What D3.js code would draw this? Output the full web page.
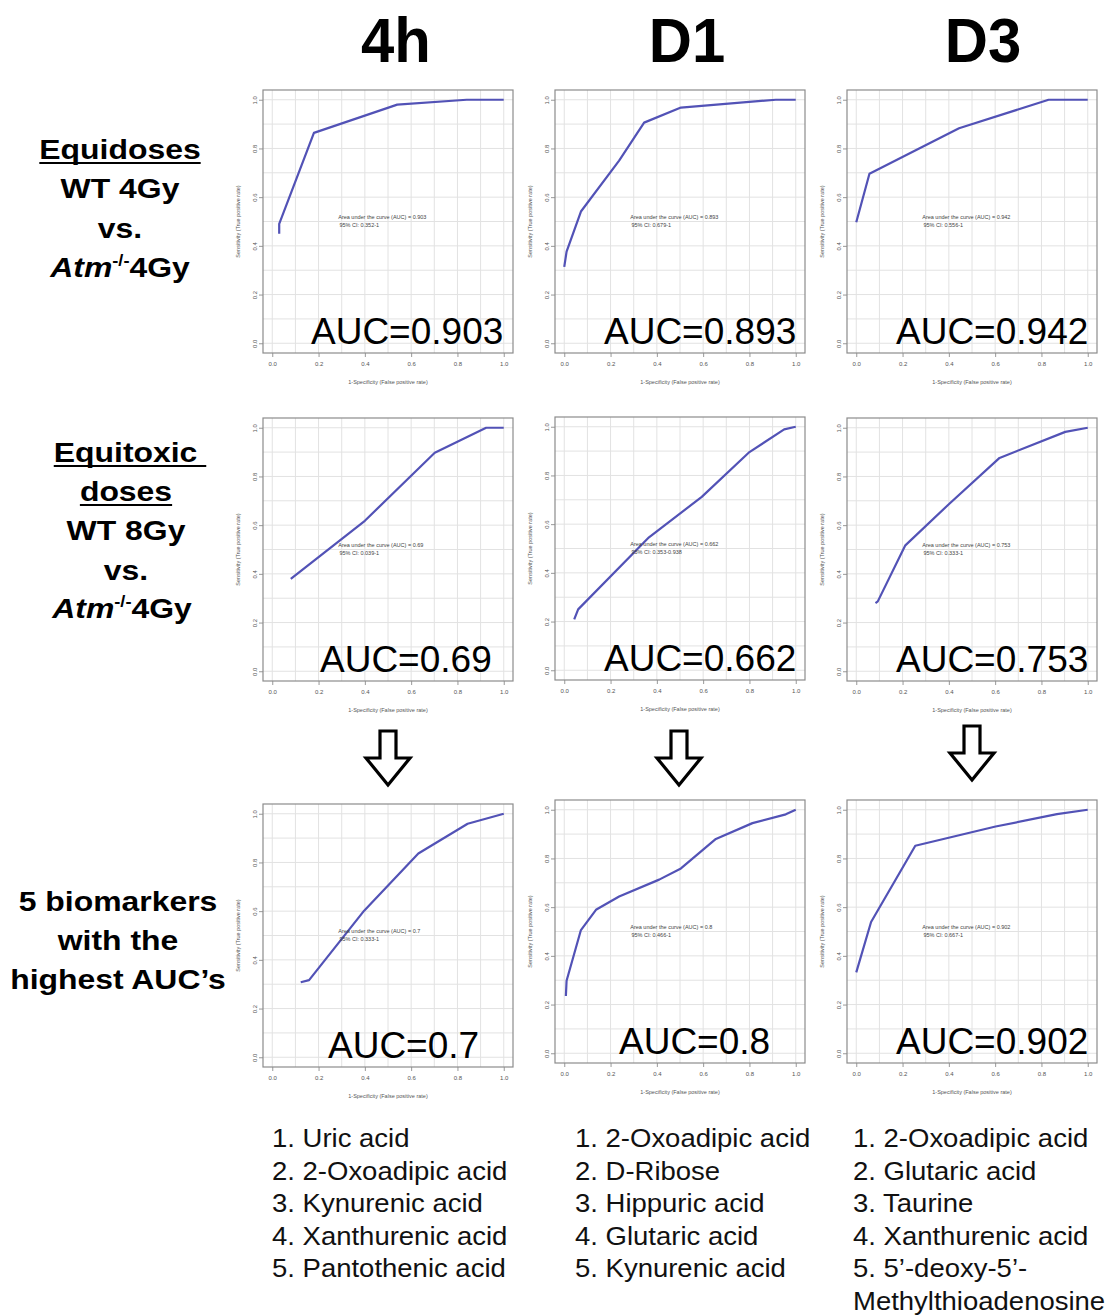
<!DOCTYPE html>
<html>
<head>
<meta charset="utf-8">
<script src="https://cdn.jsdelivr.net/npm/d3@7"></script>
<style>
  body { margin: 0; background: #fff; }
  svg { display: block; font-family: "Liberation Sans", Arial, sans-serif; }
</style>
</head>
<body>
<svg id="chart" width="1112" height="1315"></svg>
<script>
// column headers (time points)
var timePoints = ["4h", "D1", "D3"];

// ROC curves, [1-specificity, sensitivity]
var rocEqui4h = [[0.03, 0.45], [0.03, 0.49], [0.18, 0.864], [0.54, 0.98], [0.84, 1.0], [1.0, 1.0]];
var rocEquiD1 = [[0.0, 0.314], [0.01, 0.376], [0.072, 0.541], [0.237, 0.75], [0.345, 0.906], [0.504, 0.968], [0.914, 1.0], [1.0, 1.0]];
var rocEquiD3 = [[0.0, 0.497], [0.057, 0.696], [0.444, 0.883], [0.831, 1.0], [1.0, 1.0]];
var rocTox4h = [[0.08, 0.379], [0.4, 0.618], [0.702, 0.897], [0.924, 1.0], [1.0, 1.0]];
var rocToxD1 = [[0.043, 0.209], [0.06, 0.25], [0.366, 0.546], [0.594, 0.712], [0.8, 0.896], [0.95, 0.989], [1.0, 1.0]];
var rocToxD3 = [[0.083, 0.28], [0.093, 0.287], [0.212, 0.517], [0.401, 0.687], [0.619, 0.876], [0.903, 0.983], [1.0, 1.0]];
var rocBio4h = [[0.123, 0.308], [0.159, 0.317], [0.397, 0.602], [0.631, 0.837], [0.844, 0.959], [1.0, 1.0]];
var rocBioD1 = [[0.007, 0.235], [0.01, 0.298], [0.072, 0.506], [0.137, 0.589], [0.237, 0.644], [0.41, 0.713], [0.504, 0.759], [0.655, 0.88], [0.813, 0.945], [0.957, 0.981], [1.0, 1.0]];
var rocBioD3 = [[0.0, 0.332], [0.064, 0.539], [0.255, 0.852], [0.602, 0.931], [0.867, 0.982], [1.0, 1.0]];

var aucValues = ["0.903", "0.893", "0.942", "0.69", "0.662", "0.753", "0.7", "0.8", "0.902"];
var ciValues = ["0.352-1", "0.679-1", "0.556-1", "0.039-1", "0.353-0.938", "0.333-1", "0.333-1", "0.466-1", "0.667-1"];

var axisTicks = [0, 0.2, 0.4, 0.6, 0.8, 1.0];

var biomarkers4h = ["1. Uric acid", "2. 2-Oxoadipic acid", "3. Kynurenic acid", "4. Xanthurenic acid", "5. Pantothenic acid"];
var biomarkersD1 = ["1. 2-Oxoadipic acid", "2. D-Ribose", "3. Hippuric acid", "4. Glutaric acid", "5. Kynurenic acid"];
var biomarkersD3 = ["1. 2-Oxoadipic acid", "2. Glutaric acid", "3. Taurine", "4. Xanthurenic acid", "5. 5\u2019-deoxy-5\u2019-", "Methylthioadenosine"];

var curves = [rocEqui4h, rocEquiD1, rocEquiD3, rocTox4h, rocToxD1, rocToxD3, rocBio4h, rocBioD1, rocBioD3];
var biomarkerLists = [biomarkers4h, biomarkersD1, biomarkersD3];

// layout
var W = 250, H = 263;
var colLeft = [263, 555, 847];
var panelTop = [90, 90, 90, 418, 417, 418, 804, 800, 800];
var aucDx = [48, 49, 49, 57, 49, 49, 65, 64, 49];
var headerX = [396, 687, 983];
var arrowX = [388, 679, 972];

var svg = d3.select("#chart");

// column headers
svg.selectAll(".header")
    .data(timePoints)
    .enter()
    .append("text")
    .attr("class", "header")
    .attr("transform", function (d, i) { return "translate(" + headerX[i] + ",62) scale(0.95,1)"; })
    .attr("text-anchor", "middle")
    .style("font-size", "63px")
    .style("font-weight", "bold")
    .text(function (d) { return d; });

// one ROC panel
function drawPanel(d, i) {
    var g = svg.append("g")
        .attr("class", "panel")
        .attr("transform", "translate(" + colLeft[i % 3] + "," + panelTop[i] + ")");

    var x = d3.scaleLinear().domain([-0.04, 1.04]).range([0, W]);
    var y = d3.scaleLinear().domain([-0.04, 1.04]).range([H, 0]);
    var grid = d3.range(0, 11).map(function (k) { return k / 10; });

    g.append("rect")
        .attr("width", W).attr("height", H)
        .style("fill", "#fff");

    g.selectAll(".gx").data(grid).enter().append("line")
        .attr("x1", function (v) { return x(v); }).attr("x2", function (v) { return x(v); })
        .attr("y1", 0).attr("y2", H)
        .style("stroke", "#e2e2e2").style("stroke-width", 1);
    g.selectAll(".gy").data(grid).enter().append("line")
        .attr("y1", function (v) { return y(v); }).attr("y2", function (v) { return y(v); })
        .attr("x1", 0).attr("x2", W)
        .style("stroke", "#e2e2e2").style("stroke-width", 1);

    var xAxis = g.append("g")
        .attr("transform", "translate(0," + H + ")")
        .call(d3.axisBottom(x).tickValues(axisTicks).tickFormat(d3.format(".1f")).tickSize(4).tickSizeOuter(0));
    var yAxis = g.append("g")
        .call(d3.axisLeft(y).tickValues(axisTicks).tickFormat(d3.format(".1f")).tickSize(4).tickSizeOuter(0));

    xAxis.select(".domain").remove();
    yAxis.select(".domain").remove();
    g.selectAll(".tick line").style("stroke", "#999");
    xAxis.selectAll("text").attr("y", 11).attr("dy", "0.32em").style("font-size", "6px").style("fill", "#555");
    yAxis.selectAll("text")
        .attr("x", 0).attr("dy", 0).attr("y", -6)
        .attr("transform", "rotate(-90)")
        .attr("text-anchor", "middle")
        .style("font-size", "6px").style("fill", "#555");

    g.append("text")
        .attr("x", W / 2).attr("y", H + 31)
        .attr("text-anchor", "middle")
        .style("font-size", "5.5px").style("fill", "#555")
        .text("1-Specificity (False positive rate)");
    g.append("text")
        .attr("transform", "translate(-23," + (H / 2) + ") rotate(-90)")
        .attr("text-anchor", "middle")
        .style("font-size", "5.5px").style("fill", "#555")
        .text("Sensitivity (True positive rate)");

    g.append("rect")
        .attr("width", W).attr("height", H)
        .style("fill", "none").style("stroke", "#8c8c8c").style("stroke-width", 1.2);

    var line = d3.line()
        .x(function (p) { return x(p[0]); })
        .y(function (p) { return y(p[1]); });

    g.append("path")
        .datum(d)
        .attr("d", line)
        .style("fill", "none")
        .style("stroke", "#5252b6")
        .style("stroke-width", 2.2)
        .style("stroke-linejoin", "round");

    var note = g.append("text")
        .attr("x", x(0.285)).attr("y", y(0.51))
        .style("font-size", "5.5px").style("fill", "#444");
    note.append("tspan").text("Area under the curve (AUC) = " + aucValues[i]);
    note.append("tspan").attr("x", x(0.29)).attr("dy", 8).text("95% CI: " + ciValues[i]);

    g.append("text")
        .attr("x", aucDx[i]).attr("y", H - 9)
        .style("font-size", "37px")
        .style("fill", "#000")
        .text("AUC=" + aucValues[i]);
}

curves.forEach(drawPanel);

// hollow down arrows between rows 2 and 3
svg.selectAll(".arrow")
    .data(arrowX)
    .enter()
    .append("path")
    .attr("class", "arrow")
    .attr("d", function (cx, i) {
        var top = i == 2 ? 726 : 731, neck = top + 27, tip = top + 54;
        return "M" + (cx - 8) + "," + top + "H" + (cx + 8) + "V" + neck + "H" + (cx + 22) +
            "L" + cx + "," + tip + "L" + (cx - 22) + "," + neck + "H" + (cx - 8) + "Z";
    })
    .style("fill", "#fff")
    .style("stroke", "#000")
    .style("stroke-width", 3.2)
    .style("stroke-linejoin", "miter");

// row labels on the left
function rowLine(parts, cx, yBase, underline) {
    var t = svg.append("text")
        .attr("transform", "translate(" + cx + "," + yBase + ") scale(1.14,1)")
        .attr("text-anchor", "middle")
        .style("font-size", "28px")
        .style("font-weight", "bold")
        .attr("xml:space", "preserve");
    parts.forEach(function (p) {
        var s = t.append("tspan").text(p.text);
        if (p.italic) s.style("font-style", "italic");
        if (p.sup) s.style("font-size", "16px").attr("dy", -11);
        if (p.after) s.attr("dy", 11);
    });
    if (underline) {
        var w = t.node().getComputedTextLength() * 1.14;
        svg.append("line")
            .attr("x1", cx - w / 2).attr("x2", cx + w / 2)
            .attr("y1", yBase + 4).attr("y2", yBase + 4)
            .style("stroke", "#000").style("stroke-width", 2.2);
    }
}

var atmLine = [{ text: "Atm", italic: true }, { text: "-/-", sup: true }, { text: "4Gy", after: true }];

rowLine([{ text: "Equidoses" }], 120, 159, true);
rowLine([{ text: "WT 4Gy" }], 120, 198, false);
rowLine([{ text: "vs." }], 120, 238, false);
rowLine(atmLine, 120, 277, false);

rowLine([{ text: "Equitoxic " }], 130, 462, true);
rowLine([{ text: "doses" }], 126, 501, true);
rowLine([{ text: "WT 8Gy" }], 126, 540, false);
rowLine([{ text: "vs." }], 126, 580, false);
rowLine(atmLine, 122, 618, false);

rowLine([{ text: "5 biomarkers" }], 118, 911, false);
rowLine([{ text: "with the" }], 118, 950, false);
rowLine([{ text: "highest AUC\u2019s" }], 118, 989, false);

// biomarker lists under each column
var listX = [272, 575, 853];
biomarkerLists.forEach(function (list, c) {
    svg.selectAll(".list" + c)
        .data(list)
        .enter()
        .append("text")
        .attr("class", "list" + c)
        .attr("transform", function (d, i) { return "translate(" + listX[c] + "," + (1147 + i * 32.5) + ") scale(1.1,1)"; })
        .style("font-size", "25px")
        .style("fill", "#111")
        .text(function (d) { return d; });
});
</script>
</body>
</html>
